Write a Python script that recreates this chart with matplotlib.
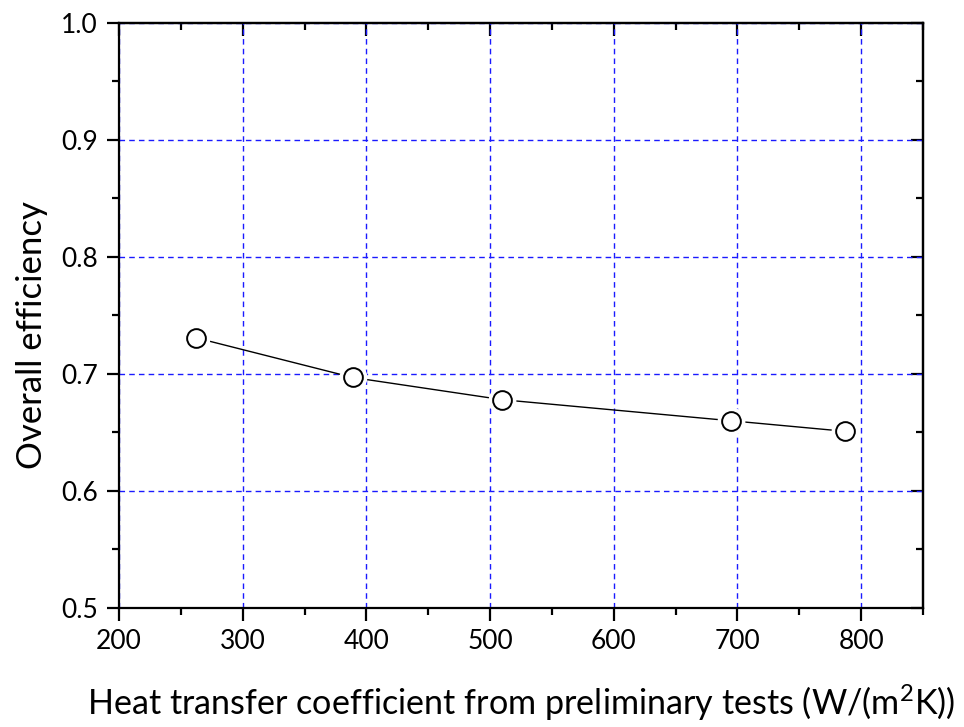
import matplotlib
matplotlib.use("Agg")
import matplotlib.pyplot as plt
from matplotlib.ticker import MultipleLocator

# Overall efficiency vs. heat transfer coefficient
htc = [262, 389, 510, 695, 787]
efficiency = [0.731, 0.697, 0.678, 0.660, 0.651]

x_ticks = [200, 300, 400, 500, 600, 700, 800]
y_ticks = [0.5, 0.6, 0.7, 0.8, 0.9, 1.0]

plt.rcParams['font.family'] = ['Lato', 'DejaVu Sans']
plt.rcParams['mathtext.fontset'] = 'custom'
plt.rcParams['mathtext.rm'] = 'Lato'
plt.rcParams['mathtext.it'] = 'Lato:italic'
plt.rcParams['mathtext.bf'] = 'Lato:bold'

fig = plt.figure(figsize=(9.64, 7.27), dpi=100)
ax = fig.add_axes([0.1234, 0.1637, 0.9575 - 0.1234, 0.9684 - 0.1637])

ax.set_xlim(200, 850)
ax.set_ylim(0.5, 1.0)
ax.set_xticks(x_ticks)
ax.set_yticks(y_ticks)
ax.set_xticklabels([str(v) for v in x_ticks])
ax.set_yticklabels([f"{v:.1f}" for v in y_ticks])
ax.xaxis.set_minor_locator(MultipleLocator(50))
ax.yaxis.set_minor_locator(MultipleLocator(0.05))

ax.grid(True, which='major', color='#1a1aff', linestyle=(0, (4, 3)), linewidth=1.0)
ax.set_axisbelow(True)

for side in ax.spines.values():
    side.set_linewidth(1.6)

ax.tick_params(which='major', direction='out', length=9, width=1.6,
               labelsize=19, pad=6, top=False, right=False)
ax.tick_params(which='minor', direction='out', length=5, width=1.6,
               top=False, right=False)

# Inward ticks on the top and right edges
ax_top = ax.secondary_xaxis('top')
ax_top.set_xticks(x_ticks)
ax_top.xaxis.set_minor_locator(MultipleLocator(50))
ax_top.tick_params(which='major', direction='in', length=9, width=1.6, labeltop=False)
ax_top.tick_params(which='minor', direction='in', length=5, width=1.6)
ax_top.spines['top'].set_linewidth(1.6)
ax_right = ax.secondary_yaxis('right')
ax_right.set_yticks(y_ticks)
ax_right.yaxis.set_minor_locator(MultipleLocator(0.05))
ax_right.tick_params(which='major', direction='in', length=9, width=1.6, labelright=False)
ax_right.tick_params(which='minor', direction='in', length=5, width=1.6)
ax_right.spines['right'].set_linewidth(1.6)

# Connecting line with small gaps around the open circles
ax.plot(htc, efficiency, color='black', linewidth=1.0, zorder=3)
ax.plot(htc, efficiency, linestyle='none', marker='o', markersize=19,
        markerfacecolor='white', markeredgecolor='white', zorder=4)
ax.plot(htc, efficiency, linestyle='none', marker='o', markersize=13.5,
        markerfacecolor='white', markeredgecolor='black', markeredgewidth=1.4, zorder=5)

ax.set_xlabel('Heat transfer coefficient from preliminary tests (W/(m$^2$K))',
              fontsize=24.6, labelpad=21)
ax.set_ylabel('Overall efficiency', fontsize=25)
ax.yaxis.set_label_coords(-0.088, 0.467)

fig.savefig('out.png', dpi=100)
